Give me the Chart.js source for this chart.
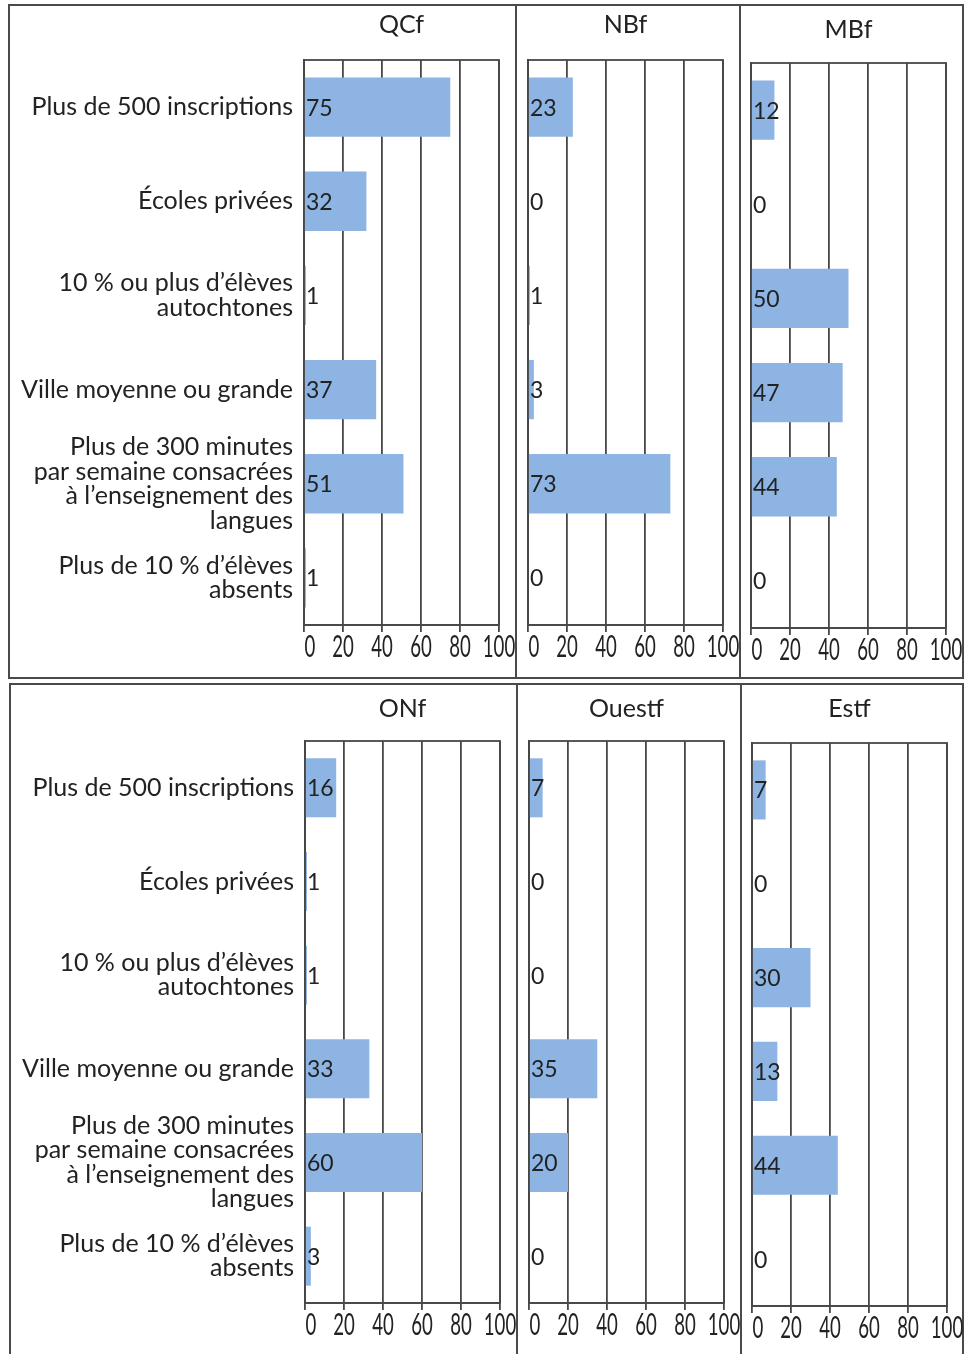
<!DOCTYPE html>
<html>
<head>
<meta charset="utf-8">
<script src="https://cdn.jsdelivr.net/npm/chart.js@4"></script>
<style>
  body { margin: 0; background: #fff; width: 964px; height: 1354px; position: relative; overflow: hidden; }
  .line { position: absolute; background: #4a4a4a; }
  canvas { position: absolute; }
</style>
</head>
<body>
<script>
const categories = [
    'Plus de 500 inscriptions',
    'Écoles privées',
    ['10 % ou plus d’élèves', 'autochtones'],
    'Ville moyenne ou grande',
    ['Plus de 300 minutes', 'par semaine consacrées', 'à l’enseignement des', 'langues'],
    ['Plus de 10 % d’élèves', 'absents']
];
const panelTitles = ['QCf', 'NBf', 'MBf', 'ONf', 'Ouestf', 'Estf'];
const qcf = [75, 32, 1, 37, 51, 1];
const nbf = [23, 0, 1, 3, 73, 0];
const mbf = [12, 0, 50, 47, 44, 0];
const onf = [16, 1, 1, 33, 60, 3];
const ouestf = [7, 0, 0, 35, 20, 0];
const estf = [7, 0, 30, 13, 44, 0];
const xTicks = [0, 20, 40, 60, 80, 100];

const FONT = 'Lato, "Open Sans", "DejaVu Sans", sans-serif';
const barColor = '#8db4e2';
const lineColor = '#474747';

// page layout: box = panel frame, plot = wanted chart area, ty = title centre
const panels = [
    { data: qcf,    labels: true,  box: [10, 6, 506, 672],   plot: [304, 499, 60, 625],   ty: 25 },
    { data: nbf,    labels: false, box: [517, 6, 223, 672],  plot: [528, 723, 60, 625],   ty: 25 },
    { data: mbf,    labels: false, box: [741, 6, 222, 672],  plot: [751, 946, 63, 628],   ty: 30 },
    { data: onf,    labels: true,  box: [11, 685, 506, 669], plot: [305, 500, 741, 1303], ty: 709 },
    { data: ouestf, labels: false, box: [518, 685, 223, 669],plot: [529, 724, 741, 1303], ty: 709 },
    { data: estf,   labels: false, box: [742, 685, 221, 669],plot: [752, 947, 743, 1306], ty: 709 }
];

// frame lines
function addLine(x, y, w, h) {
    const d = document.createElement('div');
    d.className = 'line';
    d.style.left = x + 'px'; d.style.top = y + 'px';
    d.style.width = w + 'px'; d.style.height = h + 'px';
    document.body.appendChild(d);
}
addLine(8, 4, 956, 2); addLine(8, 677, 956, 2);
addLine(8, 4, 2, 675); addLine(962, 4, 2, 675);
addLine(515, 4, 2, 675); addLine(739, 4, 2, 675);
addLine(9, 683, 955, 2);
addLine(9, 683, 2, 680); addLine(962, 683, 2, 680);
addLine(516, 683, 2, 680); addLine(740, 683, 2, 680);

const boxPlugin = {
    id: 'boxPlugin',
    beforeDatasetsDraw(chart) {
        const a = chart.chartArea;
        const ctx = chart.ctx;
        ctx.save();
        ctx.strokeStyle = lineColor;
        ctx.lineWidth = 1.8;
        ctx.strokeRect(a.left, a.top, a.right - a.left, a.bottom - a.top);
        ctx.restore();
    },
    afterDatasetsDraw(chart, args, opts) {
        const ctx = chart.ctx;
        const a = chart.chartArea;
        ctx.save();
        ctx.fillStyle = '#222';
        ctx.font = '23px ' + FONT;
        ctx.textBaseline = 'middle';
        ctx.textAlign = 'left';
        const meta = chart.getDatasetMeta(0);
        meta.data.forEach((bar, i) => {
            ctx.fillText(String(chart.data.datasets[0].data[i]), a.left + 2, bar.y + 1);
        });
        // panel title
        ctx.font = '25px ' + FONT;
        ctx.textAlign = 'center';
        ctx.fillText(opts.title, (a.left + a.right) / 2, opts.titleY);
        // narrow x tick labels (the original uses a condensed face)
        const xs = chart.scales.x;
        ctx.font = '30px ' + FONT;
        xs.ticks.forEach(t => {
            const px = xs.getPixelForValue(t.value);
            ctx.save();
            ctx.translate(px + (t.value === 0 ? 6 : 0), a.bottom + 22);
            ctx.scale(0.62, 1);
            ctx.fillText(String(t.value), 0, 0);
            ctx.restore();
        });
        ctx.restore();
    }
};

function noPad(s) {
    s.paddingTop = 0; s.paddingBottom = 0; s.paddingLeft = 0; s.paddingRight = 0;
}

panels.forEach((p, idx) => {
    const [bx, by, bw, bh] = p.box;
    const [pl, pr, pt, pb] = p.plot;
    const canvas = document.createElement('canvas');
    canvas.width = bw; canvas.height = bh;
    canvas.style.left = bx + 'px'; canvas.style.top = by + 'px';
    canvas.style.width = bw + 'px'; canvas.style.height = bh + 'px';
    document.body.appendChild(canvas);

    new Chart(canvas.getContext('2d'), {
        type: 'bar',
        data: {
            labels: categories,
            datasets: [{
                data: p.data,
                backgroundColor: barColor,
                borderWidth: 0,
                categoryPercentage: 1,
                barPercentage: 0.63
            }]
        },
        options: {
            indexAxis: 'y',
            responsive: false,
            animation: false,
            layout: { padding: { top: pt - by, right: bx + bw - pr, left: 0, bottom: 0 } },
            plugins: {
                legend: { display: false },
                tooltip: { enabled: false },
                boxPlugin: { title: panelTitles[idx], titleY: p.ty - by }
            },
            scales: {
                x: {
                    min: 0, max: 100,
                    afterBuildTicks: (s) => { s.ticks = xTicks.map(v => ({ value: v })); },
                    afterFit: (s) => { s.height = by + bh - pb; noPad(s); },
                    grid: { color: lineColor, lineWidth: 1.8, tickLength: 7 },
                    border: { color: lineColor, width: 1.8 },
                    ticks: { display: false, autoSkip: false }
                },
                y: {
                    afterFit: (s) => { s.width = pl - bx; noPad(s); },
                    grid: { display: false, drawTicks: false },
                    border: { color: lineColor, width: 1.8 },
                    ticks: {
                        display: p.labels,
                        autoSkip: false,
                        color: '#222',
                        padding: 11,
                        font: { family: FONT, size: 25, lineHeight: 0.98 }
                    }
                }
            }
        },
        plugins: [boxPlugin]
    });
});
</script>
</body>
</html>
